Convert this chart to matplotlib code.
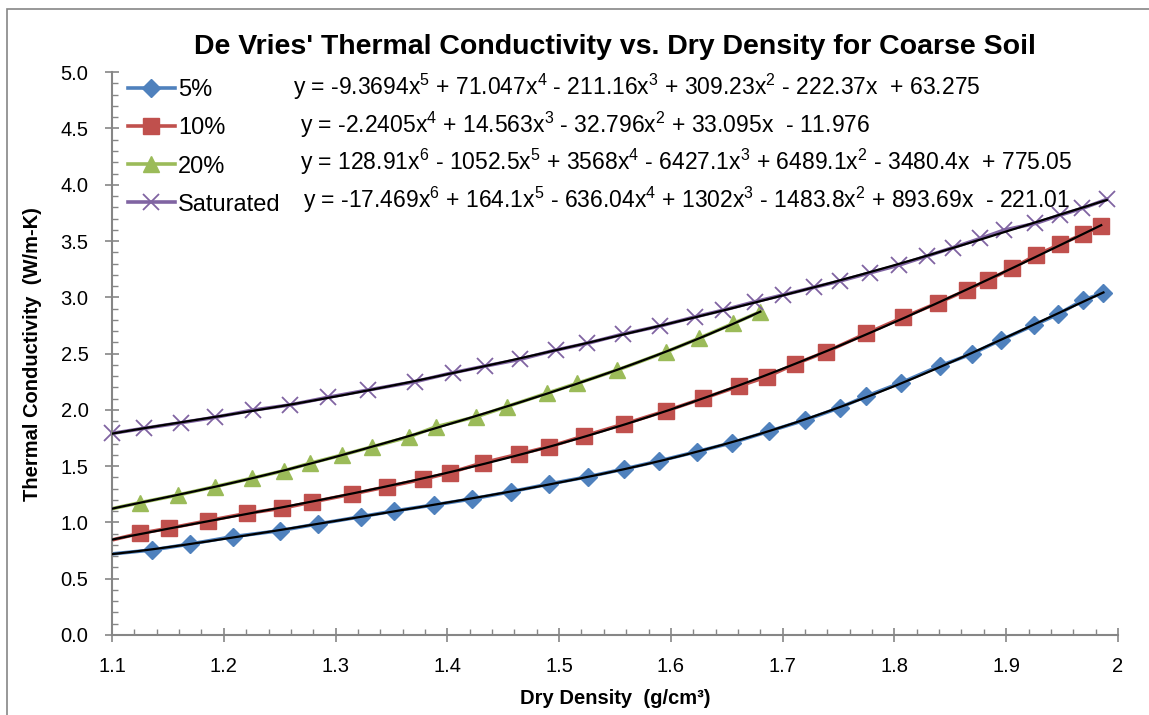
import matplotlib.pyplot as plt
import numpy as np
from matplotlib.patches import Rectangle
from matplotlib.ticker import MultipleLocator

plt.rcParams['font.family'] = ['Liberation Sans', 'DejaVu Sans']
plt.rcParams['mathtext.fontset'] = 'custom'
plt.rcParams['mathtext.rm'] = 'Liberation Sans'
plt.rcParams['mathtext.it'] = 'Liberation Sans:italic'
plt.rcParams['mathtext.bf'] = 'Liberation Sans:bold'

# dry density (g/cm3) vs thermal conductivity (W/m-K)
x_5 = [1.09, 1.136, 1.170, 1.208, 1.250, 1.284, 1.323, 1.352, 1.388, 1.422, 1.457,
       1.491, 1.526, 1.558, 1.589, 1.623, 1.655, 1.688, 1.720, 1.751, 1.775, 1.806,
       1.841, 1.869, 1.895, 1.925, 1.946, 1.969, 1.987]
k_5 = [0.71, 0.755, 0.808, 0.873, 0.926, 0.986, 1.051, 1.101, 1.155, 1.208, 1.273,
       1.341, 1.406, 1.474, 1.545, 1.628, 1.708, 1.810, 1.909, 2.019, 2.122, 2.241,
       2.392, 2.496, 2.620, 2.753, 2.848, 2.975, 3.040]

x_10 = [1.09, 1.125, 1.151, 1.186, 1.221, 1.252, 1.279, 1.315, 1.346, 1.378, 1.402,
        1.432, 1.464, 1.491, 1.522, 1.558, 1.596, 1.629, 1.661, 1.686, 1.711, 1.739,
        1.775, 1.808, 1.839, 1.865, 1.884, 1.905, 1.927, 1.948, 1.969, 1.985]
k_10 = [0.82, 0.903, 0.948, 1.015, 1.081, 1.125, 1.181, 1.252, 1.317, 1.383, 1.441,
        1.530, 1.607, 1.672, 1.767, 1.874, 1.992, 2.102, 2.211, 2.294, 2.407, 2.516,
        2.679, 2.822, 2.951, 3.064, 3.153, 3.257, 3.375, 3.470, 3.561, 3.632]

x_20 = [1.09, 1.125, 1.159, 1.192, 1.225, 1.254, 1.277, 1.306, 1.333, 1.366, 1.390,
        1.426, 1.453, 1.489, 1.516, 1.552, 1.596, 1.625, 1.656, 1.680]
k_20 = [1.10, 1.175, 1.243, 1.317, 1.392, 1.459, 1.525, 1.599, 1.672, 1.761, 1.850,
        1.939, 2.028, 2.147, 2.235, 2.353, 2.516, 2.635, 2.768, 2.871]

x_sat = [1.100, 1.129, 1.162, 1.192, 1.226, 1.259, 1.293, 1.329, 1.371, 1.405, 1.434,
         1.465, 1.497, 1.525, 1.557, 1.590, 1.622, 1.647, 1.675, 1.700, 1.728, 1.751,
         1.778, 1.804, 1.829, 1.852, 1.877, 1.898, 1.926, 1.948, 1.968, 1.990]
k_sat = [1.791, 1.836, 1.886, 1.933, 1.998, 2.043, 2.111, 2.176, 2.250, 2.330, 2.389,
         2.449, 2.531, 2.590, 2.673, 2.744, 2.827, 2.886, 2.960, 3.020, 3.088, 3.144,
         3.217, 3.286, 3.366, 3.440, 3.523, 3.597, 3.656, 3.730, 3.790, 3.870]

labels = ['5%', '10%', '20%', 'Saturated']
fit_degree = [5, 4, 6, 6]
equations = [
    'y = -9.3694x$^5$ + 71.047x$^4$ - 211.16x$^3$ + 309.23x$^2$ - 222.37x  + 63.275',
    'y = -2.2405x$^4$ + 14.563x$^3$ - 32.796x$^2$ + 33.095x  - 11.976',
    'y = 128.91x$^6$ - 1052.5x$^5$ + 3568x$^4$ - 6427.1x$^3$ + 6489.1x$^2$ - 3480.4x  + 775.05',
    'y = -17.469x$^6$ + 164.1x$^5$ - 636.04x$^4$ + 1302x$^3$ - 1483.8x$^2$ + 893.69x  - 221.01',
]

x_ticks = [1.1, 1.2, 1.3, 1.4, 1.5, 1.6, 1.7, 1.8, 1.9, 2.0]
x_tick_labels = ['1.1', '1.2', '1.3', '1.4', '1.5', '1.6', '1.7', '1.8', '1.9', '2']
y_ticks = [0.0, 0.5, 1.0, 1.5, 2.0, 2.5, 3.0, 3.5, 4.0, 4.5, 5.0]

colors = ['#4F81BD', '#C0504D', '#9BBB59', '#8064A2']
markers = ['D', 's', '^', 'x']
msizes = [9, 12, 12, 12]

fig = plt.figure(figsize=(11.49, 7.15), dpi=100)
ax = fig.add_axes([0.0975, 0.112, 0.8755, 0.787])
fig.patches.append(Rectangle((0.006, -0.01), 1.2, 0.997, transform=fig.transFigure,
                             fill=False, edgecolor='#868686', linewidth=1.2))

grey = '#868686'
series = [(x_5, k_5), (x_10, k_10), (x_20, k_20), (x_sat, k_sat)]
handles = []
for i, (xs, ks) in enumerate(series):
    xs = np.array(xs)
    ks = np.array(ks)
    clip = i != 3
    if markers[i] == 'x':
        h, = ax.plot(xs, ks, color=colors[i], lw=2.6, marker='x', ms=msizes[i],
                     mew=1.3, clip_on=clip, zorder=2)
    else:
        h, = ax.plot(xs, ks, color=colors[i], lw=2.6, marker=markers[i], ms=msizes[i],
                     mec=colors[i], mfc=colors[i], clip_on=clip, zorder=2)
    handles.append(h)
    # polynomial trendline through the points
    coef = np.polyfit(xs, ks, fit_degree[i])
    xf = np.linspace(xs.min(), xs.max(), 300)
    ax.plot(xf, np.polyval(coef, xf), color='black', lw=1.6, zorder=3)

ax.set_xlim(1.1, 2.0)
ax.set_ylim(0, 5)
ax.set_xticks(x_ticks)
ax.set_xticklabels(x_tick_labels)
ax.set_yticks(y_ticks)
ax.set_yticklabels(['%.1f' % v for v in y_ticks])
ax.xaxis.set_minor_locator(MultipleLocator(0.02))
ax.yaxis.set_minor_locator(MultipleLocator(0.1))

for side in ['top', 'right']:
    ax.spines[side].set_visible(False)
for side in ['left', 'bottom']:
    ax.spines[side].set_color(grey)
    ax.spines[side].set_linewidth(1.5)

ax.tick_params(which='major', direction='inout', length=10, width=1.2, color=grey,
               labelsize=14.5, labelcolor='black')
ax.tick_params(axis='y', which='major', pad=12)
ax.tick_params(axis='x', which='major', pad=11)
ax.tick_params(which='minor', direction='in', length=4.5, width=1.0, color=grey)

ax.set_title("De Vries' Thermal Conductivity vs. Dry Density for Coarse Soil",
             fontsize=20.5, fontweight='bold', pad=13)
ax.set_xlabel('Dry Density  (g/cm\u00b3)', fontsize=14.5, fontweight='bold', labelpad=9)
ax.set_ylabel('Thermal Conductivity  (W/m-K)', fontsize=14.5, fontweight='bold', labelpad=13)

leg = ax.legend(handles, labels, loc='upper left', bbox_to_anchor=(0.006, 1.004),
                frameon=False, fontsize=17, handlelength=2.03, handletextpad=0.1,
                labelspacing=0.68, borderaxespad=0)

# trendline equations beside each legend entry
eq_x = [293, 300, 300, 303]
eq_y = [87, 125, 162, 200]
for eq, px, py in zip(equations, eq_x, eq_y):
    fig.text(px / 1149, 1 - py / 715, eq, fontsize=16.5, va='center', ha='left')

fig.savefig('out.png', dpi=100)
